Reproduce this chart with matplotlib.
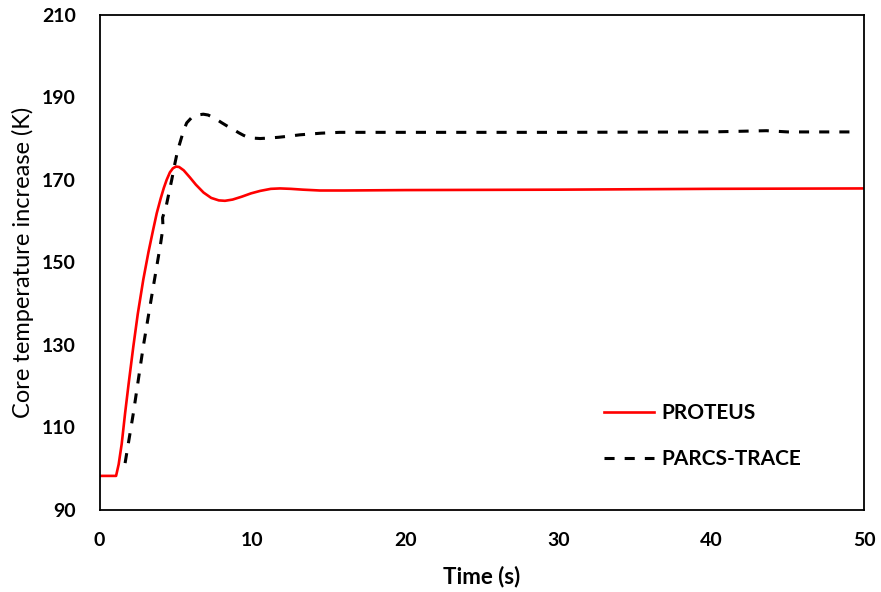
import matplotlib
matplotlib.use("Agg")
import matplotlib.pyplot as plt

# PROTEUS transient (time in s, core temperature increase in K)
proteus_t = [0, 1.08, 1.25, 1.45, 1.67, 1.9, 2.21, 2.5, 2.86, 3.2, 3.5, 3.74, 4.0, 4.2, 4.39,
             4.6, 4.8, 5.0, 5.2, 5.5, 5.9, 6.3, 6.8, 7.3, 7.8, 8.2, 8.7, 9.3, 9.9, 10.5, 11.2,
             11.8, 12.5, 13.3, 14.4, 16, 20, 30, 40, 50]
proteus_v = [98.2, 98.2, 101, 106, 113.4, 120.5, 129.6, 137.5, 145.8, 152.5, 157.8, 161.9, 165.5,
             168, 170, 171.8, 172.8, 173.2, 173.1, 172.3, 170.6, 168.8, 166.9, 165.6, 165.0,
             164.9, 165.2, 165.9, 166.7, 167.3, 167.8, 167.9, 167.8, 167.6, 167.4, 167.4, 167.5,
             167.6, 167.8, 167.9]

# PARCS-TRACE transient
parcs_t = [1.67, 2.21, 2.86, 3.41, 3.74, 4.0, 4.15, 4.12, 4.35, 4.72, 4.93, 5.1, 5.3, 5.5, 5.7,
           6.0, 6.4, 6.78, 7.1, 7.5, 8.0, 8.4, 8.75, 9.1, 9.4, 9.7, 10.05, 10.5, 11, 11.7, 12.45,
           13.1, 14.5, 15.7, 20, 30, 40, 43.6, 45, 49.2]
parcs_v = [101.3, 113.4, 129.6, 141.8, 149, 154.7, 158.5, 160.8, 163.5, 170, 174, 177, 179.5, 182,
           183.8, 185, 185.7, 185.9, 185.7, 185, 183.8, 182.9, 182.2, 181.4, 180.8, 180.3, 180.1,
           180.0, 180.1, 180.3, 180.6, 180.9, 181.3, 181.5, 181.5, 181.5, 181.6, 181.9, 181.6,
           181.6]

x_ticks = [0, 10, 20, 30, 40, 50]
y_ticks = [90, 110, 130, 150, 170, 190, 210]

plt.rcParams['font.family'] = ['Lato', 'DejaVu Sans']

fig = plt.figure(figsize=(8.81, 5.92), dpi=100)
ax = fig.add_axes([0.113, 0.139, 0.868, 0.836])

ax.plot(proteus_t, proteus_v, color='#ff0000', lw=1.9, label='PROTEUS')
ax.plot(parcs_t, parcs_v, color='black', lw=2.2, dashes=(3.3, 3.3), label='PARCS-TRACE')

ax.set_xlim(0, 50)
ax.set_ylim(90, 210)
ax.set_xticks(x_ticks)
ax.set_yticks(y_ticks)
ax.tick_params(length=0, labelsize=14)
ax.tick_params(axis='y', pad=17)
ax.tick_params(axis='x', pad=16)
for lbl in ax.get_xticklabels() + ax.get_yticklabels():
    lbl.set_fontweight('bold')
for sp in ax.spines.values():
    sp.set_linewidth(1.3)

ax.set_xlabel('Time (s)', fontsize=16, fontweight='bold', labelpad=12)
ax.set_ylabel('Core temperature increase (K)', fontsize=17, labelpad=6)

ax.legend(loc='upper left', bbox_to_anchor=(0.635, 0.2535), frameon=False,
          handlelength=2.4, labelspacing=1.25, handletextpad=0.34,
          prop={'size': 15, 'weight': 'bold'})

fig.savefig('out.png', dpi=100)
